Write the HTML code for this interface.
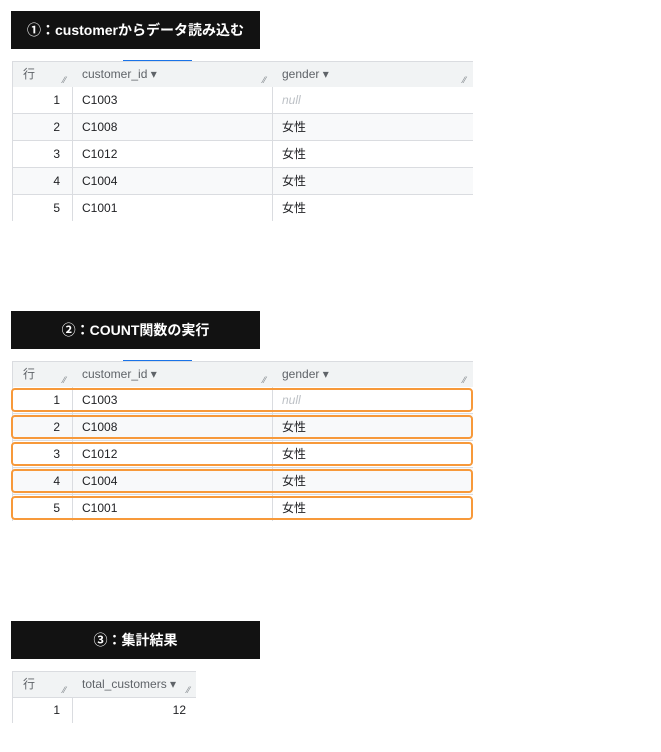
<!DOCTYPE html>
<html><head><meta charset="utf-8"><style>
*{margin:0;padding:0;box-sizing:border-box}
body{width:661px;height:752px;background:#fff;position:relative;overflow:hidden;font-family:"Liberation Sans","Noto Sans CJK JP",sans-serif;color:#202124}
.t{position:absolute;left:11px;width:249px;height:38px;background:#121212;color:#fff;font-size:14px;font-weight:bold;text-align:center;line-height:38px}
.a{position:absolute}
.hd{background:#f1f3f4;border-top:1px solid #dadce0;border-bottom:1px solid #dadce0;height:27px}
.r{height:27px;border-bottom:1px solid #dadce0;background:#fff}
.r.alt{background:#f8f9fa}
.c{position:absolute;top:0;height:100%;font-size:12px;line-height:26px}
.vl{position:absolute;top:0;bottom:0;width:1px;background:#dadce0}
.hc{font-size:12px;color:#5f6368;position:absolute;line-height:26px}
.gr{position:absolute;font-size:9px;color:#80868b;bottom:1px}
.o{position:absolute;left:11px;width:462px;height:24px;border:2px solid #f7993a;border-radius:4px}
.blue{position:absolute;height:1px;background:#1a73e8;left:123px;width:69px}
.null{color:#bdc1c6;font-style:italic}
</style></head><body>

<div class="t" style="top:11px">①：customerからデータ読み込む</div>
<div class="blue" style="top:60px"></div>
<div class="a" style="left:12px;top:61px;width:461px;height:160px;border-left:1px solid #dadce0;border-right:1px solid #dadce0">
 <div class="a hd" style="left:0;top:0;width:460px"></div>
 <span class="hc" style="left:10px;top:0">行</span><span class="gr" style="left:50px;top:14px">⁄⁄</span>
 <span class="hc" style="left:69px;top:0">customer_id ▾</span><span class="gr" style="left:250px;top:14px">⁄⁄</span>
 <span class="hc" style="left:269px;top:0">gender ▾</span><span class="gr" style="left:450px;top:14px">⁄⁄</span>
 <div class="a" style="top:26px;left:0;width:460px">
  <div class="r" style="position:relative"><span class="c" style="right:413px">1</span><span class="c" style="left:69px">C1003</span><span class="c null" style="left:269px">null</span></div>
  <div class="r alt" style="position:relative"><span class="c" style="right:413px">2</span><span class="c" style="left:69px">C1008</span><span class="c" style="left:269px">女性</span></div>
  <div class="r" style="position:relative"><span class="c" style="right:413px">3</span><span class="c" style="left:69px">C1012</span><span class="c" style="left:269px">女性</span></div>
  <div class="r alt" style="position:relative"><span class="c" style="right:413px">4</span><span class="c" style="left:69px">C1004</span><span class="c" style="left:269px">女性</span></div>
  <div class="r" style="position:relative;border-bottom:none"><span class="c" style="right:413px">5</span><span class="c" style="left:69px">C1001</span><span class="c" style="left:269px">女性</span></div>
 </div>
 <div class="vl" style="left:59px;top:26px"></div><div class="vl" style="left:259px;top:26px"></div>
</div>

<div class="t" style="top:311px">②：COUNT関数の実行</div>
<div class="blue" style="top:360px"></div>
<div class="a" style="left:12px;top:361px;width:461px;height:160px;border-left:1px solid #dadce0;border-right:1px solid #dadce0">
 <div class="a hd" style="left:0;top:0;width:460px"></div>
 <span class="hc" style="left:10px;top:0">行</span><span class="gr" style="left:50px;top:14px">⁄⁄</span>
 <span class="hc" style="left:69px;top:0">customer_id ▾</span><span class="gr" style="left:250px;top:14px">⁄⁄</span>
 <span class="hc" style="left:269px;top:0">gender ▾</span><span class="gr" style="left:450px;top:14px">⁄⁄</span>
 <div class="a" style="top:26px;left:0;width:460px">
  <div class="r" style="position:relative"><span class="c" style="right:413px">1</span><span class="c" style="left:69px">C1003</span><span class="c null" style="left:269px">null</span></div>
  <div class="r alt" style="position:relative"><span class="c" style="right:413px">2</span><span class="c" style="left:69px">C1008</span><span class="c" style="left:269px">女性</span></div>
  <div class="r" style="position:relative"><span class="c" style="right:413px">3</span><span class="c" style="left:69px">C1012</span><span class="c" style="left:269px">女性</span></div>
  <div class="r alt" style="position:relative"><span class="c" style="right:413px">4</span><span class="c" style="left:69px">C1004</span><span class="c" style="left:269px">女性</span></div>
  <div class="r" style="position:relative;border-bottom:none"><span class="c" style="right:413px">5</span><span class="c" style="left:69px">C1001</span><span class="c" style="left:269px">女性</span></div>
 </div>
 <div class="vl" style="left:59px;top:26px"></div><div class="vl" style="left:259px;top:26px"></div>
</div>
<div class="o" style="top:388px"></div>
<div class="o" style="top:415px"></div>
<div class="o" style="top:442px"></div>
<div class="o" style="top:469px"></div>
<div class="o" style="top:496px"></div>

<div class="t" style="top:621px">③：集計結果</div>
<div class="a" style="left:12px;top:671px;width:184px;height:52px;border-left:1px solid #dadce0">
 <div class="a hd" style="left:0;top:0;width:183px"></div>
 <span class="hc" style="left:10px;top:0">行</span><span class="gr" style="left:50px;top:14px">⁄⁄</span>
 <span class="hc" style="left:69px;top:0">total_customers ▾</span><span class="gr" style="left:174px;top:14px">⁄⁄</span>
 <div class="a" style="top:26px;left:0;width:183px;height:26px">
  <span class="c" style="right:136px">1</span><span class="c" style="right:10px">12</span>
 </div>
 <div class="vl" style="left:59px;top:26px"></div>
</div>

</body></html>
